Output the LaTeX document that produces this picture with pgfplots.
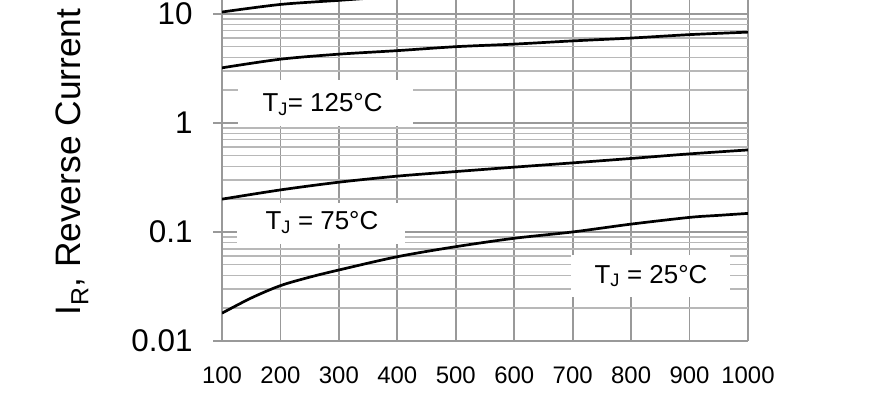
\documentclass[border=0pt]{standalone}
\usepackage{pgfplots}
\pgfplotsset{compat=1.18}
\usepackage{fontspec}
\setmainfont{Liberation Sans}

\definecolor{gridgray}{HTML}{999999}
\definecolor{minorgray}{HTML}{B8B8B8}

\begin{document}
\begin{tikzpicture}
	\useasboundingbox (0,0) rectangle (875bp,410bp);
	\begin{axis}[
		at={(222bp,69bp)}, anchor=south west,
		scale only axis,
		width=526bp, height=341bp,
		ymode=log,
		xmin=100, xmax=1000,
		ymin=0.01, ymax=13.4,
		axis x line*=bottom,
		axis y line*=left,
		axis line style={gridgray, line width=1.7bp, -},
		xtick={100,200,300,400,500,600,700,800,900,1000},
		xticklabels={100,200,300,400,500,600,700,800,900,1000},
		ytick={0.01,0.1,1,10},
		yticklabels={0.01,0.1,1,10},
		xmajorgrids, ymajorgrids, yminorgrids,
		major grid style={gridgray, line width=1.7bp},
		minor grid style={minorgray, line width=1.4bp},
		tick align=outside,
		major tick length=9bp,
		minor tick length=0bp,
		xtick style={draw=none},
		ytick style={gridgray, line width=1.7bp},
		xticklabel style={font=\fontsize{24}{28}\selectfont, yshift=-13bp},
		yticklabel style={font=\fontsize{31.5}{36}\selectfont, xshift=-17bp},
		]
		
		% top curve (runs off the top of the crop)
		\addplot[black, line width=2.7bp, smooth] coordinates {
			(100,10.4) (200,12.2) (300,13.3) (400,14.5) (500,15.6)
			(600,16.5) (700,17.4) (800,18.2) (900,19.0) (1000,19.8)};
		
		% T_J = 125 C
		\addplot[black, line width=2.7bp, smooth] coordinates {
			(100,3.2) (200,3.84) (300,4.27) (400,4.6) (500,5.0)
			(600,5.28) (700,5.65) (800,6.0) (900,6.45) (1000,6.8)};
		
		% T_J = 75 C
		\addplot[black, line width=2.7bp, smooth] coordinates {
			(100,0.20) (200,0.243) (300,0.286) (400,0.325) (500,0.358)
			(600,0.393) (700,0.43) (800,0.472) (900,0.52) (1000,0.565)};
		
		% T_J = 25 C
		\addplot[black, line width=2.7bp, smooth] coordinates {
			(100,0.018) (150,0.0248) (200,0.0322) (250,0.0385) (300,0.0448) (400,0.0593)
			(500,0.0733) (600,0.0875) (700,0.1) (800,0.118) (900,0.136)
			(950,0.142) (1000,0.148)};
		
		% white boxes behind the labels
		\fill[white] (axis cs:127,0.939) rectangle (axis cs:427,2.48);
		\fill[white] (axis cs:126,0.0776) rectangle (axis cs:413,0.1845);
		\fill[white] (axis cs:697,0.02535) rectangle (axis cs:969,0.0615);
		
		\node[anchor=base, font=\fontsize{26}{30}\selectfont] at (axis cs:272,1.26) {T\textsubscript{J}= 125°C};
		\node[anchor=base, font=\fontsize{26}{30}\selectfont] at (axis cs:271,0.1043) {T\textsubscript{J} = 75°C};
		\node[anchor=base, font=\fontsize{26}{30}\selectfont] at (axis cs:834,0.034) {T\textsubscript{J} = 25°C};
	\end{axis}
	\node[rotate=90, anchor=base west, inner sep=0pt, font=\fontsize{35.5}{40}\selectfont]
		at (80bp,94bp) {I\textsubscript{R}, Reverse Current};
\end{tikzpicture}
\end{document}
